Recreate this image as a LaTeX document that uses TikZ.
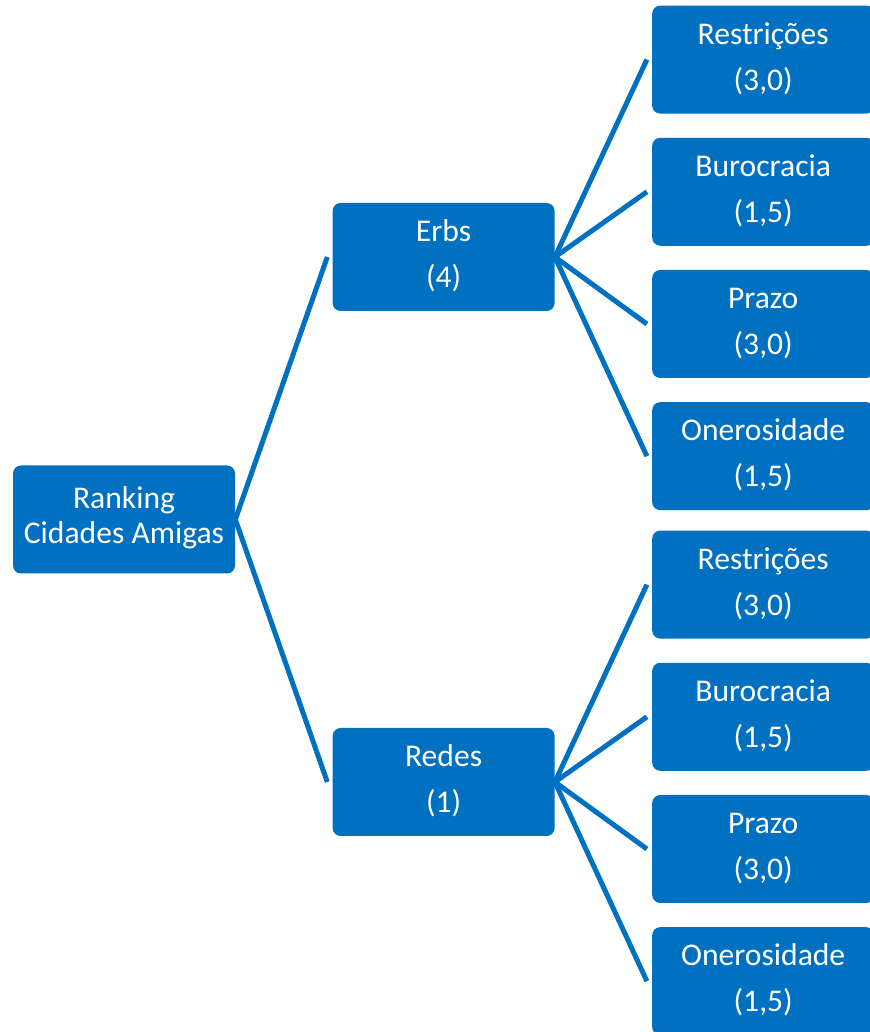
\documentclass[tikz,border=0pt]{standalone}
\usepackage{fontspec}
\setmainfont{Carlito}
\usepackage{tikz}
\usetikzlibrary{positioning}
\definecolor{smartblue}{HTML}{0070C0}

\begin{document}
\begin{tikzpicture}[x=1pt,y=1pt,semithick,node distance=97pt]
\tikzstyle{level} = [rectangle, rounded corners=8pt, fill=smartblue, text=white, minimum width=222pt, minimum height=108pt, inner sep=0pt, align=center, font=\fontsize{31.6}{38}\selectfont]
\tikzstyle{criterion} = [level]
\tikzstyle{branch} = [draw=smartblue, line width=5pt]

\useasboundingbox (0,0) rectangle (869,1032);

\node[level,font=\fontsize{31.6}{35}\selectfont] (RANKING) at (124,512.5)
   {%
      \begin{tabular}{@{}c@{}}
         Ranking\\
         Cidades Amigas
      \end{tabular}%
   };

\node[level] (ERBS) [right=of RANKING,yshift=262.5pt]
   {%
      \begin{tabular}{@{}c@{}}
         Erbs\\[8pt]
         (4)
      \end{tabular}%
   };

\node[level] (REDES) [right=of RANKING,yshift=-262.5pt]
   {%
      \begin{tabular}{@{}c@{}}
         Redes\\[8pt]
         (1)
      \end{tabular}%
   };

% criterios das Erbs
\node[criterion] (ERBSREST) [right=of ERBS,yshift=197.4pt]
   {%
      \begin{tabular}{@{}c@{}}
         Restrições\\[8pt]
         (3,0)
      \end{tabular}%
   };

\node[criterion] (ERBSBURO) [below=23.6pt of ERBSREST]
   {%
      \begin{tabular}{@{}c@{}}
         Burocracia\\[8pt]
         (1,5)
      \end{tabular}%
   };

\node[criterion] (ERBSPRAZO) [below=23.6pt of ERBSBURO]
   {%
      \begin{tabular}{@{}c@{}}
         Prazo\\[8pt]
         (3,0)
      \end{tabular}%
   };

\node[criterion] (ERBSONER) [below=23.6pt of ERBSPRAZO]
   {%
      \begin{tabular}{@{}c@{}}
         Onerosidade\\[8pt]
         (1,5)
      \end{tabular}%
   };

% criterios das Redes
\node[criterion] (REDESREST) [right=of REDES,yshift=197.4pt]
   {%
      \begin{tabular}{@{}c@{}}
         Restrições\\[8pt]
         (3,0)
      \end{tabular}%
   };

\node[criterion] (REDESBURO) [below=23.6pt of REDESREST]
   {%
      \begin{tabular}{@{}c@{}}
         Burocracia\\[8pt]
         (1,5)
      \end{tabular}%
   };

\node[criterion] (REDESPRAZO) [below=23.6pt of REDESBURO]
   {%
      \begin{tabular}{@{}c@{}}
         Prazo\\[8pt]
         (3,0)
      \end{tabular}%
   };

\node[criterion] (REDESONER) [below=23.6pt of REDESPRAZO]
   {%
      \begin{tabular}{@{}c@{}}
         Onerosidade\\[8pt]
         (1,5)
      \end{tabular}%
   };

\path[branch] (RANKING.east) -- ([xshift=-5pt]ERBS.west);
\path[branch] (RANKING.east) -- ([xshift=-5pt]REDES.west);

\path[branch] (ERBS.east) -- ([xshift=-5pt]ERBSREST.west);
\path[branch] (ERBS.east) -- ([xshift=-5pt]ERBSBURO.west);
\path[branch] (ERBS.east) -- ([xshift=-5pt]ERBSPRAZO.west);
\path[branch] (ERBS.east) -- ([xshift=-5pt]ERBSONER.west);

\path[branch] (REDES.east) -- ([xshift=-5pt]REDESREST.west);
\path[branch] (REDES.east) -- ([xshift=-5pt]REDESBURO.west);
\path[branch] (REDES.east) -- ([xshift=-5pt]REDESPRAZO.west);
\path[branch] (REDES.east) -- ([xshift=-5pt]REDESONER.west);
\end{tikzpicture}
\end{document}
